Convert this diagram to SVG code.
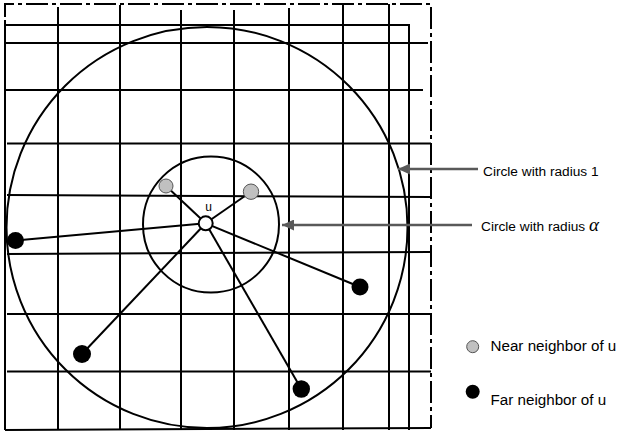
<svg xmlns="http://www.w3.org/2000/svg" width="621" height="436" viewBox="0 0 621 436">
<defs>
<style>
.grid{stroke:#000;stroke-width:2;fill:none;stroke-linecap:butt}
.dd{stroke:#000;stroke-width:2;fill:none;stroke-dasharray:22 4 4 4}
.ring{stroke:#000;stroke-width:2;fill:none}
.edge{stroke:#000;stroke-width:2}
.near{fill:#c0c0c0;stroke:#555;stroke-width:1}
.far{fill:#000}
.ptr{stroke:#595959;stroke-width:2.5;fill:none}
.lbl{font-family:"Liberation Sans",Arial,sans-serif;fill:#000}
</style>
<marker id="ah" markerUnits="userSpaceOnUse" markerWidth="13" markerHeight="11" refX="12" refY="5.5" orient="auto">
<path d="M0,0 L12,5.5 L0,11 Z" fill="#595959"/>
</marker>
</defs>
<rect width="621" height="436" fill="#fff"/>
<g id="grid" class="grid">
<path class="dd" d="M5,17 L5,4 L431,4 L431,428"/>
<path d="M5,25 H409 V430"/>
<path d="M5,43 H428"/>
<path d="M5,90 H423"/>
<path d="M7,143.5 H431"/>
<path d="M7,195 L431,197"/>
<path d="M7,254 L430,252"/>
<path d="M7,314 H431"/>
<path d="M7,371.5 H431"/>
<path d="M5,430 L431,428"/>
<path d="M5,20 V430"/>
<path d="M58,7 V430"/>
<path d="M120,5 V430"/>
<path d="M181,10 V430"/>
<path d="M234,10 V430"/>
<path d="M289,8 V430"/>
<path d="M343,5 V430"/>
<path d="M389,4 V430"/>
</g>
<g id="circle-radius-1"><circle class="ring" cx="207" cy="227.5" r="200.5"/></g>
<g id="circle-radius-alpha"><circle class="ring" cx="211" cy="224.5" r="68"/></g>
<g id="connectors">
<line class="edge" x1="205.7" y1="223.3" x2="166" y2="186"/>
<line class="edge" x1="205.7" y1="223.3" x2="251" y2="191.7"/>
<line class="edge" x1="205.7" y1="223.3" x2="15.5" y2="240.5"/>
<line class="edge" x1="205.7" y1="223.3" x2="82" y2="354"/>
<line class="edge" x1="205.7" y1="223.3" x2="301.3" y2="389"/>
<line class="edge" x1="205.7" y1="223.3" x2="360" y2="287"/>
<line class="ptr" x1="478" y1="169" x2="398" y2="169" marker-end="url(#ah)"/>
<line class="ptr" x1="472" y1="225" x2="282" y2="225" marker-end="url(#ah)"/>
</g>
<g id="node-u">
<circle cx="205.7" cy="223.3" r="7" fill="#fff" stroke="#000" stroke-width="2"/>
<text class="lbl" x="208.7" y="211" font-size="12" text-anchor="middle">u</text>
</g>
<g id="near-1"><circle class="near" cx="166" cy="186" r="7"/></g>
<g id="near-2"><circle class="near" cx="251" cy="191.7" r="7.7"/></g>
<g id="far-1"><circle class="far" cx="15.5" cy="240.5" r="8.5"/></g>
<g id="far-2"><circle class="far" cx="82" cy="354" r="9"/></g>
<g id="far-3"><circle class="far" cx="301.3" cy="389" r="8.7"/></g>
<g id="far-4"><circle class="far" cx="360" cy="287" r="8.5"/></g>
<g id="label-radius-1"><text class="lbl" x="483" y="176" font-size="13.7">Circle with radius 1</text></g>
<g id="label-radius-alpha"><text class="lbl" x="481" y="231" font-size="13.7">Circle with radius <tspan font-family="'Liberation Serif','DejaVu Serif',serif" font-style="italic" font-size="19">α</tspan></text></g>
<g id="legend">
<circle class="near" cx="472.7" cy="346.7" r="6"/>
<text class="lbl" x="490.5" y="350.5" font-size="15.2">Near neighbor of u</text>
<circle class="far" cx="472.7" cy="391.7" r="7"/>
<text class="lbl" x="490.5" y="404.5" font-size="15.2">Far neighbor of u</text>
</g>
</svg>
